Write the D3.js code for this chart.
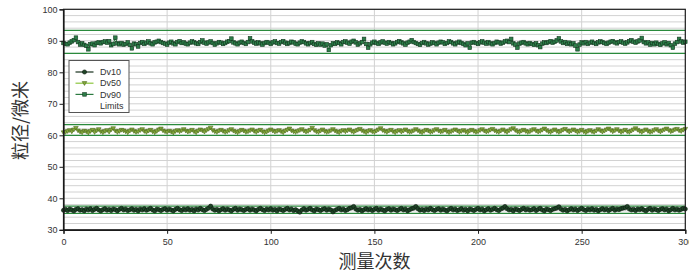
<!DOCTYPE html>
<meta charset="utf-8">
<script src="https://d3js.org/d3.v7.min.js"></script>
<style>
  body { margin: 0; background: #fff; }
  text { font-family: "Liberation Sans", Arial, sans-serif; }
</style>
<div id="chart"></div>
<script>
  // measured values per run (index 0..300)
  var dv10 = [
    36.2, 36.5, 36.1, 36.6, 36.3, 36.0, 36.5, 36.7, 36.2, 36.4, 36.0, 36.6, 36.3, 36.7, 36.1, 36.5, 36.8, 36.3, 36.0, 36.4,
    36.7, 36.2, 36.5, 36.1, 36.6, 36.4, 36.0, 36.5, 36.8, 36.3, 36.6, 36.1, 36.4, 36.7, 36.2, 36.5, 36.0, 36.6, 36.3, 36.7,
    36.2, 36.5, 36.8, 36.3, 36.0, 36.6, 36.4, 36.1, 36.5, 36.7, 36.2, 36.6, 36.3, 36.0, 36.5, 36.8, 36.4, 36.1, 36.6, 36.3,
    36.7, 36.2, 36.5, 36.0, 36.6, 36.3, 36.8, 36.4, 36.1, 36.5, 36.9, 37.5, 36.6, 36.2, 36.5, 36.0, 36.4, 36.7, 36.2, 36.6,
    36.3, 36.0, 36.5, 36.8, 36.2, 36.6, 36.4, 36.1, 36.5, 36.7, 36.2, 36.6, 36.3, 36.0, 36.5, 36.8, 36.4, 36.1, 36.6, 36.3,
    36.7, 36.2, 36.5, 36.0, 36.6, 36.4, 36.1, 36.5, 36.8, 36.3, 36.6, 36.1, 36.4, 36.0, 35.6, 36.3, 36.7, 36.2, 36.5, 36.8,
    36.3, 36.0, 36.6, 36.4, 36.1, 36.5, 36.7, 36.2, 36.6, 36.3, 35.7, 36.2, 36.5, 36.8, 36.3, 36.6, 36.1, 36.4, 36.8, 37.0,
    37.4, 36.6, 36.2, 36.5, 36.0, 36.4, 36.7, 36.3, 36.6, 36.1, 36.5, 36.8, 36.2, 36.6, 36.3, 36.0, 36.5, 36.7, 36.2, 36.6,
    36.4, 36.1, 36.5, 36.8, 36.3, 36.6, 36.0, 36.4, 36.7, 36.9, 37.4, 36.7, 36.2, 36.5, 36.1, 36.6, 36.3, 36.8, 36.4, 36.1,
    36.5, 36.7, 36.2, 36.6, 36.3, 36.0, 36.5, 36.8, 36.3, 36.6, 36.1, 36.4, 36.7, 36.2, 36.5, 36.0, 36.6, 36.4, 36.1, 36.5,
    36.8, 36.3, 36.6, 36.0, 36.4, 36.7, 36.2, 36.5, 36.8, 36.4, 36.1, 36.6, 36.9, 37.4, 36.7, 36.3, 36.5, 36.0, 36.6, 36.4,
    36.1, 36.5, 36.8, 36.3, 36.6, 36.2, 36.4, 36.7, 36.1, 36.5, 36.8, 36.3, 36.0, 36.6, 36.4, 36.1, 36.5, 36.7, 36.9, 37.3,
    36.6, 36.2, 36.5, 36.0, 36.4, 36.7, 36.3, 36.6, 36.1, 36.5, 36.8, 36.4, 36.1, 36.6, 36.3, 36.7, 36.2, 36.5, 36.0, 36.4,
    36.7, 36.3, 36.6, 36.1, 36.5, 36.8, 36.2, 36.6, 36.4, 36.7, 36.9, 37.0, 37.4, 36.6, 36.3, 36.5, 36.1, 36.6, 36.4, 36.7,
    36.3, 36.0, 36.5, 36.8, 36.2, 36.6, 36.4, 36.1, 36.5, 36.7, 36.3, 36.6, 36.0, 36.4, 36.8, 36.3, 36.6, 36.2, 36.5, 36.8,
    36.6
  ];

  var dv50 = [
    60.9, 61.0, 61.3, 61.6, 61.2, 61.8, 62.3, 61.5, 61.1, 60.9, 61.4, 61.2, 60.8, 61.3, 61.7, 61.0, 61.5, 61.9, 61.2, 60.9,
    61.3, 61.6, 61.1, 61.8, 62.2, 61.4, 61.0, 61.3, 61.7, 61.5, 61.2, 60.9, 61.4, 61.8, 61.3, 61.0, 61.2, 61.6, 61.9, 61.3,
    61.0, 61.4, 61.7, 61.2, 60.9, 61.3, 61.8, 62.1, 61.5, 61.2, 61.0, 61.4, 61.1, 60.8, 61.3, 61.6, 61.2, 61.5, 61.9, 61.4,
    61.1, 61.3, 61.7, 61.2, 60.9, 61.4, 61.8, 61.5, 61.1, 61.6, 62.0, 62.4, 61.6, 61.2, 61.0, 61.4, 61.7, 61.3, 61.0, 61.2,
    61.6, 61.9, 61.4, 61.1, 60.9, 61.3, 61.7, 61.4, 61.0, 61.2, 61.5, 61.8, 61.3, 61.0, 61.4, 61.7, 61.2, 60.9, 61.1, 61.5,
    61.8, 61.4, 61.1, 61.3, 61.6, 61.2, 60.9, 61.4, 61.7, 62.1, 61.5, 61.2, 61.0, 61.3, 61.6, 61.9, 61.4, 61.1, 61.3, 61.7,
    62.3, 61.6, 61.2, 61.0, 61.4, 61.8, 61.3, 61.0, 61.2, 61.5, 61.9, 61.4, 61.1, 60.9, 61.3, 61.6, 61.2, 61.5, 61.8, 61.3,
    61.0, 61.4, 61.7, 62.0, 61.5, 61.2, 60.9, 61.3, 61.6, 61.2, 61.0, 61.4, 61.8, 62.2, 61.6, 61.3, 61.0, 61.4, 61.7, 61.2,
    60.9, 61.3, 61.6, 61.1, 61.4, 61.8, 61.3, 61.0, 61.2, 61.5, 61.9, 61.5, 61.1, 60.9, 61.3, 61.7, 61.4, 61.0, 61.2, 61.6,
    61.9, 61.4, 61.1, 61.3, 61.7, 61.2, 60.9, 61.2, 61.5, 61.8, 61.4, 61.0, 61.3, 61.6, 61.2, 60.9, 61.4, 61.7, 61.3, 61.0,
    61.2, 61.6, 61.9, 61.4, 61.1, 61.3, 61.7, 62.0, 61.5, 61.2, 61.0, 61.4, 61.8, 61.3, 61.0, 61.5, 61.9, 62.2, 61.6, 61.2,
    61.0, 61.4, 61.7, 61.3, 61.0, 61.2, 61.6, 61.9, 61.4, 61.1, 61.3, 61.7, 62.1, 61.6, 61.2, 61.0, 61.4, 61.8, 61.3, 61.0,
    61.3, 61.7, 62.0, 61.5, 61.1, 61.4, 61.8, 61.4, 61.0, 61.3, 61.7, 61.2, 60.9, 61.3, 61.6, 61.2, 61.0, 61.4, 61.9, 61.5,
    61.1, 61.4, 61.8, 62.1, 61.6, 61.2, 61.5, 61.9, 61.4, 61.0, 61.3, 61.7, 61.2, 61.0, 61.4, 61.8, 62.2, 61.7, 61.3, 61.0,
    61.4, 61.8, 61.3, 61.0, 61.2, 61.6, 61.9, 61.4, 61.1, 61.5, 61.8, 62.1, 61.6, 61.2, 61.4, 61.8, 62.0, 61.5, 61.3, 61.7,
    62.0
  ];

  var dv90 = [
    89.3, 89.0, 88.9, 89.4, 89.8, 90.2, 91.0, 89.6, 88.8, 89.2, 88.7, 88.4, 87.3, 88.9, 89.1, 88.6, 89.3, 89.5, 89.2, 89.6,
    89.8, 89.4, 89.9, 88.6, 89.0, 91.0, 89.2, 88.9, 89.3, 88.8, 89.0, 89.5, 88.7, 87.6, 89.1, 88.9, 88.2, 89.3, 89.6, 89.0,
    89.4, 89.8, 89.2, 88.9, 89.5, 89.7, 90.0, 89.6, 89.3, 89.1, 88.8, 89.4, 89.7, 89.2, 88.9, 89.6, 89.9, 89.3, 89.5, 89.1,
    88.9, 89.4, 89.8, 89.5, 89.2, 89.0, 89.6, 90.1, 89.4, 89.1, 89.5, 89.8, 89.3, 88.8, 89.2, 89.6, 89.4, 89.0, 89.3, 89.7,
    89.9, 90.7, 89.5, 89.2, 88.9, 89.4, 89.7, 89.3, 89.0, 89.6, 90.8, 89.8, 89.4, 89.1, 89.5, 89.2, 88.8, 89.3, 89.6, 89.4,
    89.0, 89.5, 89.8, 89.3, 89.1, 89.6, 89.9, 89.4, 89.0, 89.3, 89.7, 89.5, 89.1, 88.9, 89.4, 89.8, 89.6, 89.2, 88.9, 89.3,
    89.6, 89.0, 88.7, 89.2, 88.8, 89.1, 88.5, 88.9, 87.1, 88.6, 89.2, 89.0, 89.5, 89.3, 88.9, 89.6, 89.8, 89.4, 89.1, 89.7,
    90.0, 89.5, 88.8, 89.2, 89.6, 90.6, 89.0, 87.8, 88.9, 89.4, 89.7, 89.3, 89.0, 89.5, 89.8, 89.4, 89.1, 89.6, 89.3, 88.9,
    89.2, 89.6, 89.9, 89.5, 89.2, 88.8, 89.4, 89.7, 90.2, 89.6, 89.3, 89.0, 88.7, 89.3, 89.6, 89.2, 88.8, 89.1, 89.5, 89.3,
    88.9, 89.4, 89.7, 89.5, 89.0, 89.3, 89.8, 89.6, 89.2, 88.9, 89.4, 89.7, 89.3, 89.0, 88.6, 89.2, 87.8, 89.4, 89.6, 89.3,
    89.0, 89.5, 89.8, 89.4, 89.1, 89.6, 89.2, 88.9, 89.3, 89.7, 89.5, 89.1, 89.4, 89.8, 90.0, 89.6, 90.6, 89.2, 88.8, 87.8,
    89.1, 89.4, 89.6, 89.2, 88.9, 89.3, 89.0, 88.7, 89.2, 88.6, 88.0, 89.1, 89.5, 89.3, 89.6, 89.9, 89.4, 89.7, 90.1, 90.8,
    89.8, 89.3, 89.6, 89.0, 89.4, 88.9, 89.2, 88.5, 87.3, 88.8, 89.5, 89.2, 89.6, 89.0, 89.4, 89.7, 89.3, 89.0, 89.5, 89.8,
    89.6, 89.3, 89.0, 89.4, 89.7, 89.9, 89.5, 89.2, 89.6, 89.8, 89.4, 89.1, 89.5, 89.9, 90.2, 89.7, 89.4, 89.8, 90.1, 90.9,
    89.6, 89.2, 89.5, 88.8, 89.3, 88.9, 89.4, 89.0, 88.7, 89.2, 89.5, 88.9, 89.3, 88.6, 87.8, 89.1, 89.6, 90.6, 89.8, 89.4,
    89.7
  ];

  // control limits (lower/upper) for Dv10, Dv50, Dv90
  var limits = [35.2, 37.5, 60.0, 63.4, 86.0, 93.3];

  var xTicks = [0, 50, 100, 150, 200, 250, 300];
  var yTicks = [30, 40, 50, 60, 70, 80, 90, 100];
  var legendLabels = ["Dv10", "Dv50", "Dv90", "Limits"];

  var width = 689, height = 274;
  var plot = { left: 63.5, right: 685.3, top: 9.3, bottom: 229.8 };

  var svg = d3.select("#chart")
      .append("svg")
      .attr("width", width)
      .attr("height", height);

  var x = d3.scaleLinear().domain([0, 300]).range([plot.left, plot.right]);
  var y = d3.scaleLinear().domain([30, 100]).range([plot.bottom, plot.top]);

  // grid
  svg.append("g")
      .selectAll("line")
      .data(d3.range(32, 100, 2))
      .enter()
      .append("line")
      .attr("x1", plot.left).attr("x2", plot.right)
      .attr("y1", function (d) { return y(d); })
      .attr("y2", function (d) { return y(d); })
      .attr("stroke", "#d2d2d2")
      .attr("stroke-width", 1);

  svg.append("g")
      .selectAll("line")
      .data([50, 100, 150, 200, 250])
      .enter()
      .append("line")
      .attr("y1", plot.top).attr("y2", plot.bottom)
      .attr("x1", function (d) { return x(d); })
      .attr("x2", function (d) { return x(d); })
      .attr("stroke", "#d2d2d2")
      .attr("stroke-width", 1);

  // limit lines
  svg.append("g")
      .selectAll("line")
      .data(limits)
      .enter()
      .append("line")
      .attr("x1", plot.left).attr("x2", plot.right)
      .attr("y1", function (d) { return y(d); })
      .attr("y2", function (d) { return y(d); })
      .attr("stroke", "#2a8a3c")
      .attr("stroke-width", 1.3);

  var series = [
    { name: "Dv10", values: dv10, line: "#17301b", fill: "#1f4427", stroke: "#0a1a0d", shape: "circle" },
    { name: "Dv50", values: dv50, line: "#8cc63e", fill: "#86a83c", stroke: "#4a6a1c", shape: "triangle" },
    { name: "Dv90", values: dv90, line: "#2b7a40", fill: "#2c7d48", stroke: "#143820", shape: "square" }
  ];

  var line = d3.line()
      .x(function (d, i) { return x(i); })
      .y(function (d) { return y(d); });

  function marker(g, shape, cx, cy, s) {
    if (shape === "circle") {
      g.append("circle").attr("cx", cx).attr("cy", cy).attr("r", 2.1)
          .attr("fill", s.fill).attr("stroke", s.stroke).attr("stroke-width", 0.6);
    } else if (shape === "triangle") {
      g.append("path")
          .attr("d", "M" + (cx - 2.3) + "," + (cy - 1.6) + "L" + (cx + 2.3) + "," + (cy - 1.6) + "L" + cx + "," + (cy + 2.2) + "Z")
          .attr("fill", s.fill).attr("stroke", s.stroke).attr("stroke-width", 0.6);
    } else {
      g.append("rect").attr("x", cx - 1.8).attr("y", cy - 1.8).attr("width", 3.6).attr("height", 3.6)
          .attr("fill", s.fill).attr("stroke", s.stroke).attr("stroke-width", 0.6);
    }
  }

  series.forEach(function (s) {
    var g = svg.append("g");
    g.append("path")
        .datum(s.values)
        .attr("d", line)
        .attr("fill", "none")
        .attr("stroke", s.line)
        .attr("stroke-width", 1.1);
    s.values.forEach(function (v, i) {
      marker(g, s.shape, x(i), y(v), s);
    });
  });

  // frame
  svg.append("rect")
      .attr("x", plot.left).attr("y", plot.top)
      .attr("width", plot.right - plot.left)
      .attr("height", plot.bottom - plot.top)
      .attr("fill", "none")
      .attr("stroke", "#1a1a1a")
      .attr("stroke-width", 1.2);

  // axes
  var yAxis = svg.append("g")
      .attr("transform", "translate(" + plot.left + ",0)")
      .call(d3.axisLeft(y).tickValues(yTicks).tickSize(4).tickPadding(2));
  var xAxis = svg.append("g")
      .attr("transform", "translate(0," + plot.bottom + ")")
      .call(d3.axisBottom(x).tickValues(xTicks).tickSize(4).tickPadding(5));

  [xAxis, yAxis].forEach(function (a) {
    a.select(".domain").attr("stroke", "#1a1a1a").attr("stroke-width", 1.2);
    a.selectAll(".tick line").attr("stroke", "#1a1a1a");
    a.selectAll(".tick text")
        .attr("fill", "#333")
        .style("font-family", "'Liberation Sans', Arial, sans-serif")
        .style("font-size", "9px");
  });

  // axis titles
  svg.append("text")
      .attr("x", (plot.left + plot.right) / 2)
      .attr("y", 268)
      .attr("text-anchor", "middle")
      .style("font-family", "'Noto Sans CJK SC', sans-serif")
      .style("font-size", "18px")
      .attr("fill", "#333")
      .text("测量次数");

  svg.append("text")
      .attr("transform", "translate(27," + ((plot.top + plot.bottom) / 2 + 1) + ") rotate(-90)")
      .attr("text-anchor", "middle")
      .style("font-family", "'Noto Sans CJK SC', sans-serif")
      .style("font-size", "18px")
      .attr("fill", "#333")
      .text("粒径/微米");

  // legend
  var legend = svg.append("g");
  legend.append("rect")
      .attr("x", 69).attr("y", 60.5)
      .attr("width", 60).attr("height", 52)
      .attr("fill", "#fff")
      .attr("stroke", "#555")
      .attr("stroke-width", 1);

  legendLabels.forEach(function (label, i) {
    var ly = 72 + i * 11.2;
    var s = series[i];
    if (s) {
      legend.append("line")
          .attr("x1", 75.5).attr("x2", 93.5)
          .attr("y1", ly).attr("y2", ly)
          .attr("stroke", s.line).attr("stroke-width", 1.2);
      marker(legend, s.shape, 84.5, ly, s);
    }
    legend.append("text")
        .attr("x", 100)
        .attr("y", ly + 3.2)
        .style("font-size", "9px")
        .attr("fill", "#333")
        .text(label);
  });
</script>
